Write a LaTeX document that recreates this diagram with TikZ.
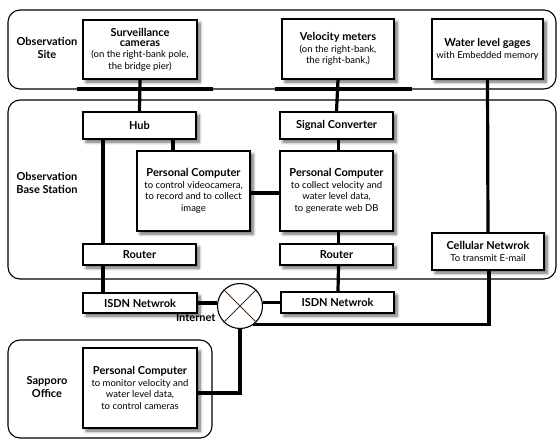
\documentclass[tikz,border=0pt]{standalone}
\usepackage{fontspec}
\setmainfont{Lato}
\usetikzlibrary{shadows.blur,calc}
\pgfdeclarelayer{mid}
\pgfsetlayers{mid,main}
\definecolor{crossbrown}{HTML}{4A3020}
\tikzset{
  group/.style={draw=black, line width=1.1pt, rounded corners=12pt},
  unit/.style={draw=black, line width=1.1pt, fill=white, align=center,
    inner sep=1pt, font=\fontsize{9.5}{11.5}\selectfont,
    blur shadow={shadow xshift=3pt, shadow yshift=-3pt, shadow blur steps=7, shadow blur radius=3pt, shadow opacity=60}},
  grouplabel/.style={align=center, font=\bfseries\fontsize{11}{13.5}\selectfont},
  link/.style={line width=3.2pt, line cap=butt},
}
\newcommand{\ttl}[1]{{\bfseries\fontsize{11}{13}\selectfont #1}}
\begin{document}
\begin{tikzpicture}[x=1pt,y=-1pt]
\useasboundingbox (0,0) rectangle (557,439);
% group boxes
\draw[group] (8,10) rectangle (556,89);
\draw[group] (8,100) rectangle (556,279);
\draw[group] (8,340) rectangle (212,438);
\node[grouplabel] (lsite) at (47,48) {Observation\\Site};
\node[grouplabel] (lbase) at (47,183) {Observation\\Base Station};
\node[grouplabel] (lsap) at (47,387) {Sapporo\\Office};
% units
\node[unit, minimum width=114pt, minimum height=59pt] (cam) at (140,49.5)
  {\ttl{Surveillance}\\[-1.5pt]\ttl{cameras}\\(on the right-bank pole,\\the bridge pier)};
\node[unit, minimum width=112pt, minimum height=60pt] (vel) at (338,49)
  {\ttl{Velocity meters}\\(on the right-bank,\\the right-bank,)};
\node[unit, minimum width=111pt, minimum height=60pt] (water) at (487.5,49)
  {\ttl{Water level gages}\\with Embedded memory};
\node[unit, minimum width=113pt, minimum height=27pt] (hub) at (139.5,125.5) {\ttl{Hub}};
\node[unit, minimum width=113pt, minimum height=27pt] (sig) at (336.5,125.5) {\ttl{Signal Converter}};
\node[unit, minimum width=113pt, minimum height=80pt] (pc1) at (193.5,191)
  {\ttl{Personal Computer}\\to control videocamera,\\to record and to collect\\image};
\node[unit, minimum width=113pt, minimum height=80pt] (pc2) at (336.5,191)
  {\ttl{Personal Computer}\\to collect velocity and\\water level data,\\to generate web DB};
\node[unit, minimum width=113pt, minimum height=21pt] (r1) at (139.5,254.5) {\ttl{Router}};
\node[unit, minimum width=113pt, minimum height=21pt] (r2) at (336.5,254.5) {\ttl{Router}};
\node[unit, minimum width=112pt, minimum height=37pt] (cell) at (488,251.5)
  {\ttl{Cellular Netwrok}\\To transmit E-mail};
\node[unit, minimum width=114pt, minimum height=20pt] (isdn1) at (140,303) {\ttl{ISDN Netwrok}};
\node[unit, minimum width=113pt, minimum height=21pt] (isdn2) at (337.5,302.5) {\ttl{ISDN Netwrok}};
\node[unit, minimum width=114pt, minimum height=80pt] (pc3) at (140,388)
  {\ttl{Personal Computer}\\to monitor velocity and\\water level data,\\to control cameras};
\node[draw=black, line width=1.1pt, fill=white, circle, minimum size=45pt, inner sep=0pt] (inet) at (240,306) {};
\draw[crossbrown, line width=0.9pt] (inet.45) -- (inet.225) (inet.135) -- (inet.-45);
\node[grouplabel, anchor=east] (linet) at (219,318) {Internet};
% connectors
\begin{pgfonlayer}{mid}
\draw[link] (77,89) -- (213,89);
\draw[link] (275,89) -- (412,89);
\draw[link] (cam.south) -- (hub.north);
\draw[link] (vel.south) -- (sig.north);
\draw[link] (water.south) -- (cell.north);
\draw[link] ([xshift=-36.5pt]hub.south) -- ([xshift=-36.5pt]r1.north);
\draw[link] ([xshift=-20.5pt]pc1.north) -- ([xshift=-20.5pt]pc1.north |- hub.south);
\draw[link] ([yshift=-2pt]pc1.east) -- ([yshift=-2pt]pc2.west);
\draw[link] ([xshift=2pt]sig.south) -- ([xshift=2pt]pc2.north);
\draw[link] ([xshift=2pt]pc2.south) -- ([xshift=2pt]r2.north);
\draw[link] ([xshift=-36.5pt]r1.south) -- ([xshift=-37pt]isdn1.north);
\draw[link] ([xshift=2pt]r2.south) -- ([xshift=0.5pt]isdn2.north);
\draw[link] (isdn1.east) -- (isdn1.east -| inet.west);
\draw[link] (isdn2.west -| inet.east) -- (isdn2.west);
\draw[link, line join=miter] ([xshift=1pt]cell.south) |- (inet.-55);
\draw[link, line join=miter] (inet.south) |- ([yshift=-5pt]pc3.east);
\end{pgfonlayer}
\end{tikzpicture}
\end{document}
